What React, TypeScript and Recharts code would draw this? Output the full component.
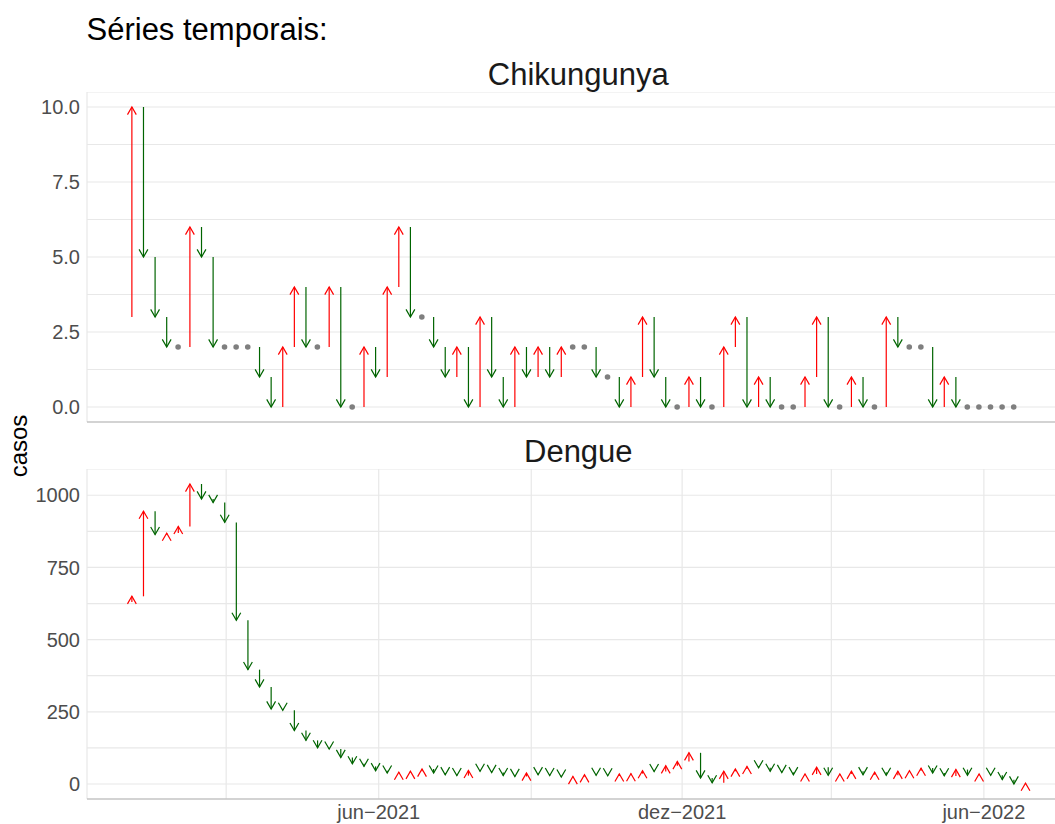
import React from 'react';
import { ComposedChart, Bar, Scatter, XAxis, YAxis, CartesianGrid } from 'recharts';

// weekly series, first week starting 2021-01-03
const DAY = 86400000;
const firstWeek = Date.UTC(2021, 0, 3);

const chikBefore = 3;
const chikCases = [
  10, 5, 3, 2, 2, 6, 5, 2, 2, 2,
  2, 1, 0, 2, 4, 2, 2, 4, 0, 0,
  2, 1, 4, 6, 3, 3, 2, 1, 2, 0,
  3, 1, 0, 2, 1, 2, 1, 2, 2, 2,
  1, 1, 0, 1, 3, 1, 0, 0, 1, 0,
  0, 2, 3, 0, 1, 0, 0, 0, 1, 3,
  0, 0, 1, 0, 0, 3, 2, 2, 2, 0,
  1, 0, 0, 0, 0, 0, 0
];

const dengueBefore = 630;
const dengueCases = [
  650, 945, 864, 869, 892, 1039, 987, 975, 906, 567,
  396, 336, 260, 255, 185, 151, 125, 121, 92, 70,
  61, 46, 38, 41, 44, 52, 38, 32, 29, 47,
  44, 40, 29, 26, 38, 32, 29, 24, 26, 32,
  30, 28, 35, 36, 46, 43, 63, 78, 108, 21,
  4, 44, 52, 61, 56, 44, 40, 32, 35, 58,
  30, 35, 44, 32, 41, 30, 44, 46, 55, 38,
  28, 50, 30, 35, 30, 15, 0, 3
];

const monthNames = ['jan', 'fev', 'mar', 'abr', 'mai', 'jun', 'jul', 'ago', 'set', 'out', 'nov', 'dez'];
const xMajorTicks = [Date.UTC(2021, 5, 1), Date.UTC(2021, 11, 1), Date.UTC(2022, 5, 1)];
const xMinorTicks = [Date.UTC(2021, 2, 1), Date.UTC(2021, 8, 1), Date.UTC(2022, 2, 1)];

const chikTicks = [0, 2.5, 5, 7.5, 10];
const chikMinor = [1.25, 3.75, 6.25, 8.75];
const dengueTicks = [0, 250, 500, 750, 1000];
const dengueMinor = [125, 375, 625, 875];

const RED = '#ff0000';
const GREEN = '#006400';
const GREY = '#7f7f7f';

type Row = { t: number; prev: number; value: number };

const buildRows = (before: number, cases: number[]): Row[] =>
  cases.map((v, i) => ({ t: firstWeek + i * 7 * DAY, prev: i === 0 ? before : cases[i - 1], value: v }));

const chikRows = buildRows(chikBefore, chikCases);
const dengueRows = buildRows(dengueBefore, dengueCases);

// ggplot-like 5% expansion
const expand = (lo: number, hi: number): [number, number] => {
  const pad = (hi - lo) * 0.05;
  return [lo - pad, hi + pad];
};
const allT = [...chikRows, ...dengueRows].map(r => r.t);
const xDomain = expand(Math.min(...allT), Math.max(...allT));
const yDomainOf = (rows: Row[]) => {
  const vals = rows.flatMap(r => [r.prev, r.value]);
  return expand(Math.min(...vals), Math.max(...vals));
};

const xTicks = [...xMinorTicks, ...xMajorTicks].sort((a, b) => a - b);
const fmtDate = (t: number) => {
  if (!xMajorTicks.includes(t)) return '';
  const d = new Date(t);
  return `${monthNames[d.getUTCMonth()]}\u2212${d.getUTCFullYear()}`;
};

const ArrowShape = (props: any) => {
  const { x, y, width, height, payload } = props;
  if (!payload || payload.value === payload.prev) return <g />;
  const cx = x + width / 2;
  const top = Math.min(y, y + height);
  const bot = Math.max(y, y + height);
  const up = payload.value > payload.prev;
  const tipY = up ? top : bot;
  const baseY = up ? bot : top;
  const dir = up ? 1 : -1;
  const hl = 7.6;
  const hw = 4.4;
  return (
    <g stroke={up ? RED : GREEN} strokeWidth={1.2} fill="none">
      <line x1={cx} y1={baseY} x2={cx} y2={tipY} />
      <polyline points={`${cx - hw},${tipY + dir * hl} ${cx},${tipY} ${cx + hw},${tipY + dir * hl}`} />
    </g>
  );
};

// grey dot only where the count did not change
const DotShape = (props: any) => {
  const p = props.payload;
  if (!p || p.prev !== p.value) return <g />;
  return <circle cx={props.cx} cy={props.cy} r={2.8} fill={GREY} />;
};

const PLOT_H = 330;

const Panel = ({ rows, yTicks, yMinor, fmtY, showX, top }: {
  rows: Row[]; yTicks: number[]; yMinor: number[]; fmtY: (v: number) => string; showX: boolean; top: number;
}) => {
  const axisH = showX ? 30 : 1;
  return (
    <div style={{ position: 'absolute', left: 0, top }}>
      <ComposedChart width={1070} height={PLOT_H + axisH} data={rows} margin={{ top: 0, right: 0, bottom: 0, left: 0 }}>
        <CartesianGrid stroke="#e8e8e8" strokeWidth={1.2} />
        <XAxis
          type="number"
          dataKey="t"
          domain={xDomain}
          allowDataOverflow
          ticks={xTicks}
          interval={0}
          tickFormatter={fmtDate}
          height={axisH}
          tick={showX ? { fontSize: 20, fill: '#4d4d4d' } : false}
          tickLine={false}
          tickSize={0}
          tickMargin={6}
          axisLine={{ stroke: '#b3b3b3', strokeWidth: 1 }}
        />
        <YAxis
          type="number"
          domain={yDomainOf(rows)}
          allowDataOverflow
          ticks={[...yTicks, ...yMinor].sort((a, b) => a - b)}
          interval={0}
          tickFormatter={fmtY}
          width={87}
          tick={{ fontSize: 20, fill: '#4d4d4d' }}
          tickLine={false}
          tickSize={0}
          tickMargin={7}
          axisLine={false}
        />
        <Bar dataKey={(d: Row) => [d.prev, d.value]} shape={<ArrowShape />} barSize={8} isAnimationActive={false} />
        <Scatter dataKey="value" shape={<DotShape />} isAnimationActive={false} />
      </ComposedChart>
    </div>
  );
};

const App: React.FC = () => {
  return (
    <div style={{
      position: 'absolute', left: 0, top: 0, width: 1055, height: 824, overflow: 'hidden',
      background: '#fff', fontFamily: '"Liberation Sans", Arial, sans-serif'
    }}>
      <Panel rows={chikRows} yTicks={chikTicks} yMinor={chikMinor} fmtY={v => (chikTicks.includes(v) ? v.toFixed(1) : '')} showX={false} top={92.3} />
      <Panel rows={dengueRows} yTicks={dengueTicks} yMinor={dengueMinor} fmtY={v => (dengueTicks.includes(v) ? String(v) : '')} showX top={469.3} />
      <svg width={1055} height={824} style={{ position: 'absolute', left: 0, top: 0, pointerEvents: 'none' }}>
        <text x={86.5} y={40} fontSize={31} fill="#000">Séries temporais:</text>
        <text x={578.3} y={85} fontSize={31} fill="#1a1a1a" textAnchor="middle">Chikungunya</text>
        <text x={578.3} y={462} fontSize={31} fill="#1a1a1a" textAnchor="middle">Dengue</text>
        <text transform="translate(27,446) rotate(-90)" fontSize={24} fill="#000" textAnchor="middle">casos</text>
      </svg>
    </div>
  );
};

export default App;
